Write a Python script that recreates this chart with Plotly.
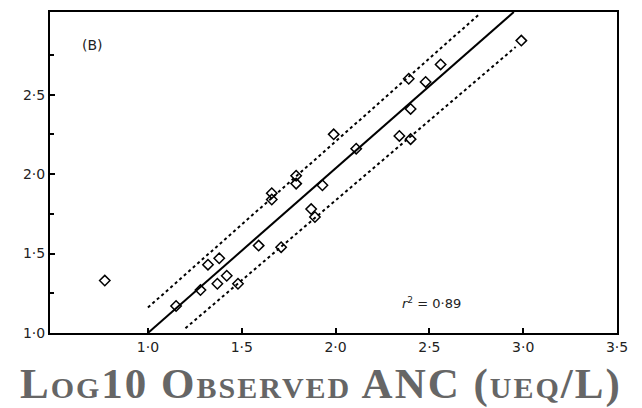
import plotly.graph_objects as go

# observed (x) vs predicted (y) log10 ANC
obs_x = [0.77, 1.15, 1.28, 1.32, 1.38, 1.37, 1.42, 1.48, 1.59, 1.71, 1.66, 1.66,
         1.79, 1.79, 1.87, 1.89, 1.93, 1.99, 2.11, 2.34, 2.40, 2.40, 2.39, 2.48,
         2.56, 2.99]
pred_y = [1.33, 1.17, 1.27, 1.43, 1.47, 1.31, 1.36, 1.31, 1.55, 1.54, 1.88, 1.84,
          1.99, 1.94, 1.78, 1.73, 1.93, 2.25, 2.16, 2.24, 2.22, 2.41, 2.60, 2.58,
          2.69, 2.84]

fit_x = [1.0, 2.95]
fit_y = [1.0, 3.02]
upper_x = [1.0, 2.76]
upper_y = [1.16, 3.0]
lower_x = [1.2, 2.96]
lower_y = [1.03, 2.80]

x_ticks = [1.0, 1.5, 2.0, 2.5, 3.0, 3.5]
x_ticktext = ["1·0", "1·5", "2·0", "2·5", "3·0", "3·5"]
y_ticks = [1.0, 1.5, 2.0, 2.5]
y_ticktext = ["1·0", "1·5", "2·0", "2·5"]

fig = go.Figure()
fig.add_trace(go.Scatter(x=upper_x, y=upper_y, mode="lines",
                         line=dict(color="black", width=2, dash="dot"), hoverinfo="skip"))
fig.add_trace(go.Scatter(x=lower_x, y=lower_y, mode="lines",
                         line=dict(color="black", width=2, dash="dot"), hoverinfo="skip"))
fig.add_trace(go.Scatter(x=fit_x, y=fit_y, mode="lines",
                         line=dict(color="black", width=2), hoverinfo="skip"))
fig.add_trace(go.Scatter(x=obs_x, y=pred_y, mode="markers",
                         marker=dict(symbol="diamond-open", size=8, color="black",
                                     line=dict(width=1.5, color="black"))))

tickfont = dict(family="DejaVu Sans", size=14, color="#222")
fig.update_xaxes(range=[0.478, 3.5], tickvals=x_ticks, ticktext=x_ticktext,
                 ticks="inside", ticklen=5, tickwidth=1.5, tickcolor="black",
                 showline=True, linecolor="black", linewidth=2, mirror=True,
                 showgrid=False, zeroline=False, tickfont=tickfont)
fig.update_yaxes(range=[1.0, 3.02], tickvals=y_ticks, ticktext=y_ticktext,
                 ticks="inside", ticklen=5, tickwidth=1.5, tickcolor="black",
                 minor=dict(tickvals=[1.25, 1.75, 2.25, 2.75], ticks="inside",
                            ticklen=4, tickcolor="black"),
                 showline=True, linecolor="black", linewidth=2, mirror=True,
                 showgrid=False, zeroline=False, tickfont=tickfont)

sc = "font-size:30px"
title = (f"<b><span style='letter-spacing:2px'>L<span style='{sc}'>OG</span>10 "
         f"O<span style='{sc}'>BSERVED</span> "
         f"ANC (<span style='{sc}'>UEQ</span>/L)</span></b>")
fig.add_annotation(text=title, xref="paper", yref="paper", x=0.478, y=-0.16,
                   xanchor="center", yanchor="middle", showarrow=False,
                   font=dict(family="Liberation Serif", size=43, color="#666"))
fig.add_annotation(text="<i>r</i><sup>2</sup> = 0·89", x=2.51, y=1.19,
                   showarrow=False, font=dict(family="DejaVu Sans", size=13, color="#222"))
fig.add_annotation(text="(B)", x=0.707, y=2.81, showarrow=False,
                   font=dict(family="DejaVu Sans", size=14, color="#222"))

fig.update_layout(width=642, height=408, margin=dict(l=50, r=25, t=10, b=75),
                  paper_bgcolor="white", plot_bgcolor="white", showlegend=False)
fig.write_html("out.html")
